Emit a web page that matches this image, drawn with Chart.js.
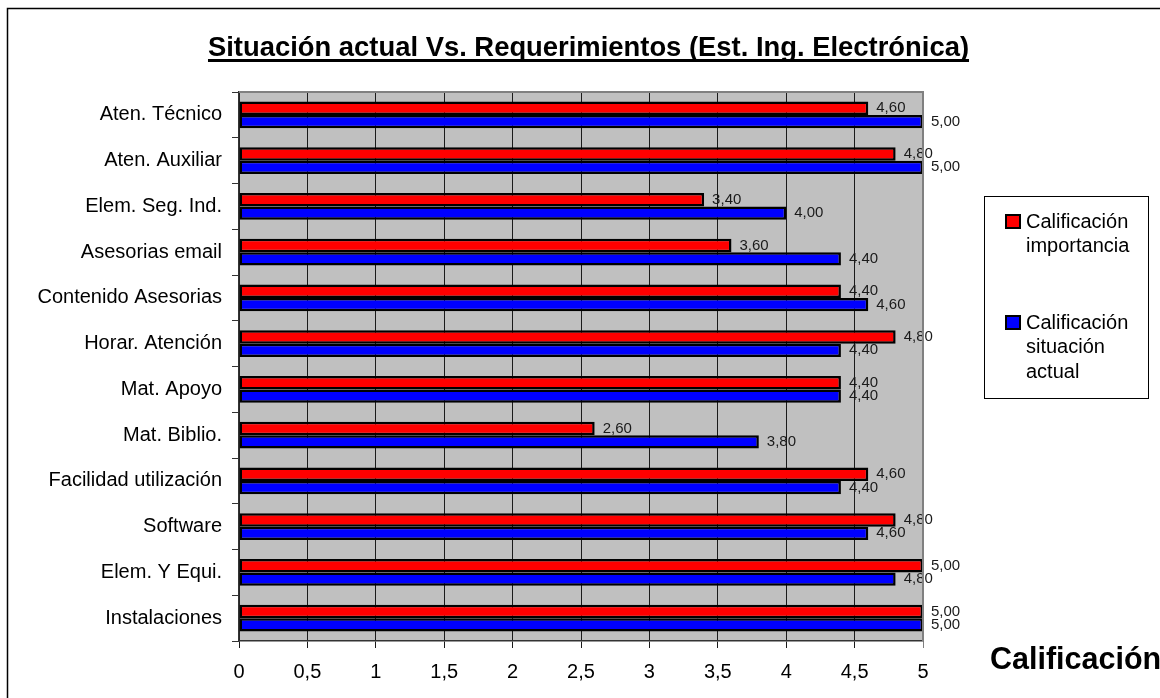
<!DOCTYPE html>
<html>
<head>
<meta charset="utf-8">
<script src="https://cdn.jsdelivr.net/npm/chart.js@4/dist/chart.umd.min.js"></script>
<style>
  html, body { margin: 0; padding: 0; background: #ffffff; }
  #wrap { width: 1160px; height: 698px; }
</style>
</head>
<body>
<div id="wrap"><canvas id="c" width="1160" height="698"></canvas></div>
<script>
// Survey items, top to bottom
const categories = [
  'Aten. Técnico', 'Aten. Auxiliar', 'Elem. Seg. Ind.', 'Asesorias email',
  'Contenido Asesorias', 'Horar. Atención', 'Mat. Apoyo', 'Mat. Biblio.',
  'Facilidad utilización', 'Software', 'Elem. Y Equi.', 'Instalaciones'
];
// Importance score per item
const importancia = [4.6, 4.8, 3.4, 3.6, 4.4, 4.8, 4.4, 2.6, 4.6, 4.8, 5.0, 5.0];
// Current-situation score per item
const situacionActual = [5.0, 5.0, 4.0, 4.4, 4.6, 4.4, 4.4, 3.8, 4.4, 4.6, 4.8, 5.0];
// Value axis ticks
const xTicks = [0, 0.5, 1, 1.5, 2, 2.5, 3, 3.5, 4, 4.5, 5];

const seriesNames = [['Calificación', 'importancia'], ['Calificación', 'situación', 'actual']];
const chartTitle = 'Situación actual Vs. Requerimientos (Est. Ing. Electrónica)';
const axisTitle = 'Calificación';

const FONT = 'Arial, "Liberation Sans", sans-serif';
const fmt = v => v.toFixed(2).replace('.', ',');
const fmtTick = v => String(v).replace('.', ',');

// Grey plot background, outer frame, title, axis title, legend, value labels
const decorPlugin = {
  id: 'decor',
  beforeDraw(chart) {
    const { ctx, chartArea: a } = chart;
    ctx.save();
    ctx.fillStyle = '#ffffff';
    ctx.fillRect(0, 0, chart.width, chart.height);
    // outer frame (right/bottom edges fall outside the canvas)
    ctx.strokeStyle = '#000000';
    ctx.lineWidth = 1.5;
    ctx.strokeRect(7.5, 8.5, chart.width + 20, chart.height + 20);
    // plot area
    ctx.fillStyle = '#c0c0c0';
    ctx.fillRect(a.left, a.top, a.right - a.left, a.bottom - a.top);
    ctx.restore();
  },
  afterDraw(chart) {
    const { ctx, chartArea: a } = chart;
    ctx.save();
    // plot border top/right in grey
    ctx.strokeStyle = '#808080';
    ctx.lineWidth = 2;
    ctx.beginPath();
    ctx.moveTo(a.left, a.top);
    ctx.lineTo(a.right, a.top);
    ctx.lineTo(a.right, a.bottom);
    ctx.stroke();

    // title, bold and underlined
    ctx.fillStyle = '#000000';
    ctx.font = 'bold 27.4px ' + FONT;
    ctx.textAlign = 'center';
    ctx.textBaseline = 'alphabetic';
    const tx = 588.5, ty = 55.5;
    ctx.fillText(chartTitle, tx, ty);
    const w = ctx.measureText(chartTitle).width;
    ctx.fillRect(tx - w / 2, 59, w, 3);

    // value axis title
    ctx.font = 'bold 30.5px ' + FONT;
    ctx.textAlign = 'left';
    ctx.fillText(axisTitle, 990, 669);

    // legend
    const lx = 984.5, ly = 196.5, lw = 164, lh = 202;
    ctx.fillStyle = '#ffffff';
    ctx.fillRect(lx, ly, lw, lh);
    ctx.strokeStyle = '#000000';
    ctx.lineWidth = 1;
    ctx.strokeRect(lx, ly, lw, lh);
    ctx.font = '20px ' + FONT;
    ctx.textBaseline = 'middle';
    const starts = [222, 323];
    chart.data.datasets.forEach((ds, i) => {
      const y0 = starts[i];
      ctx.fillStyle = ds.backgroundColor;
      ctx.fillRect(1006, y0 - 7, 14, 13);
      ctx.strokeStyle = '#000000';
      ctx.lineWidth = 2;
      ctx.strokeRect(1006, y0 - 7, 14, 13);
      ctx.fillStyle = '#000000';
      seriesNames[i].forEach((line, k) => {
        ctx.fillText(line, 1026, y0 + k * 24.5);
      });
    });
    ctx.restore();
  },
  afterDatasetsDraw(chart) {
    const { ctx } = chart;
    ctx.save();
    ctx.font = '15px ' + FONT;
    ctx.fillStyle = '#1a1a1a';
    ctx.textAlign = 'left';
    ctx.textBaseline = 'middle';
    chart.data.datasets.forEach((ds, i) => {
      const meta = chart.getDatasetMeta(i);
      meta.data.forEach((bar, j) => {
        ctx.fillText(fmt(ds.data[j]), bar.x + 8, bar.y);
      });
    });
    ctx.restore();
  }
};

new Chart(document.getElementById('c'), {
  type: 'bar',
  data: {
    labels: categories,
    datasets: [
      { label: 'Calificación importancia', data: importancia,
        backgroundColor: '#ff0000', borderColor: '#000000', borderWidth: 2.5, borderSkipped: false },
      { label: 'Calificación situación actual', data: situacionActual,
        backgroundColor: '#0000ff', borderColor: '#000000', borderWidth: 2.5, borderSkipped: false }
    ]
  },
  options: {
    indexAxis: 'y',
    responsive: false,
    devicePixelRatio: 1,
    animation: false,
    layout: { padding: { top: 92, left: 0, right: 237, bottom: 0 } },
    datasets: { bar: { categoryPercentage: 0.58, barPercentage: 1 } },
    plugins: { legend: { display: false }, title: { display: false }, tooltip: { enabled: false } },
    scales: {
      x: {
        min: 0, max: 5,
        afterFit(s) { s.height = 57; },
        afterBuildTicks(s) { s.ticks = xTicks.map(v => ({ value: v })); },
        ticks: { color: '#000000', font: { family: FONT, size: 20 }, padding: 12,
                 callback: v => fmtTick(v), maxRotation: 0, autoSkip: false },
        grid: {
          color: ctx => (ctx.tick && ctx.tick.value === 5) ? '#808080' : '#1a1a1a',
          lineWidth: 1, tickLength: 7, drawTicks: true
        },
        border: { color: '#333333', width: 1.5 }
      },
      y: {
        afterFit(s) { s.width = 239; },
        ticks: { color: '#000000', font: { family: FONT, size: 20 }, padding: 10, autoSkip: false },
        grid: { drawOnChartArea: false, color: '#333333', tickLength: 7, offset: true },
        border: { color: '#333333', width: 1.5 }
      }
    }
  },
  plugins: [decorPlugin]
});
</script>
</body>
</html>
